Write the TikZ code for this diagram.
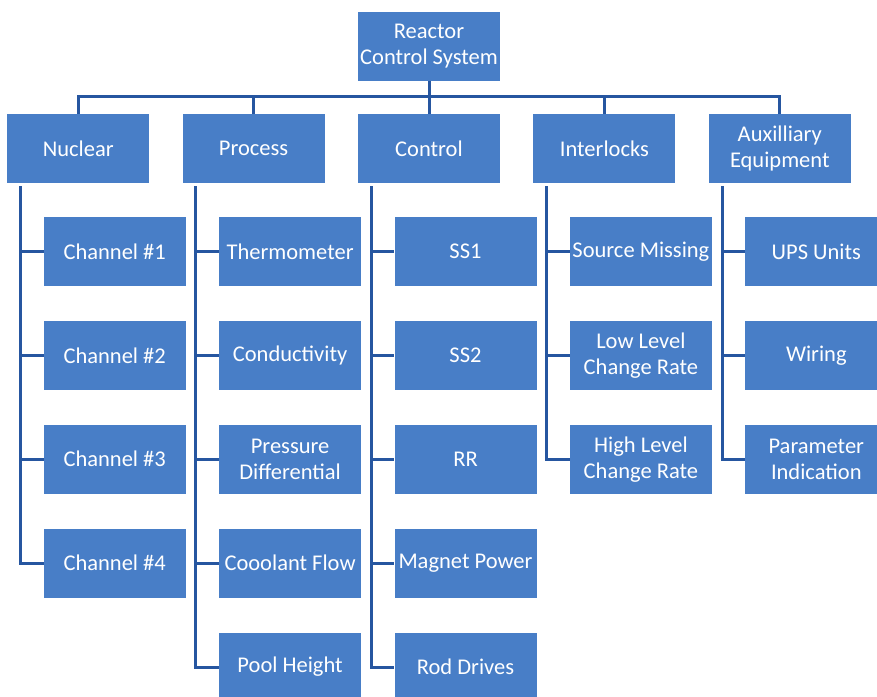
\documentclass[tikz,border=0pt]{standalone}
\usepackage{fontspec}
\setmainfont{Carlito}
\usetikzlibrary{positioning}
\definecolor{boxblue}{RGB}{72,126,199}
\definecolor{lineblue}{RGB}{38,86,160}
\tikzset {
  % organisation box
  unit/.style = {
    rectangle,
    fill = boxblue,
    text = white,
    minimum width = 142pt,
    minimum height = 69pt,
    inner sep = 0,
    align = center,
    font = \fontsize{22.5}{26}\selectfont
  },
  % box below a group
  sub/.style = {
    unit
  },
  % tree connector
  link/.style = {
    draw = lineblue,
    line width = 3pt
  },
  node distance = 33pt
}

\begin{document}
\begin{tikzpicture}[x=1pt,y=1pt]
    \useasboundingbox (0,0) rectangle (877,-696);
    \clip (0,0) rectangle (877,-696);

    \node[unit] (rcs) at (429,-46) {Reactor\\Control System};
    \node[unit] (control) at (429,-148.5) {Control};
    \node[unit] (process) [left=of control] {Process};
    \node[unit] (nuclear) [left=of process] {Nuclear};
    \node[unit] (interlocks) [right=of control] {Interlocks};
    \node[unit] (aux) [right=of interlocks] {Auxilliary\\Equipment};

    % nuclear group
    \node[sub, below=33.5pt of nuclear, xshift=36.5pt] (chan1) {Channel \#1};
    \node[sub, below=34.5pt of chan1] (chan2) {Channel \#2};
    \node[sub, below=34.5pt of chan2] (chan3) {Channel \#3};
    \node[sub, below=34.5pt of chan3] (chan4) {Channel \#4};

    % process group
    \node[sub, below=33.5pt of process, xshift=36.5pt] (thermo) {Thermometer};
    \node[sub, below=34.5pt of thermo] (conduct) {Conductivity};
    \node[sub, below=34.5pt of conduct] (pressure) {Pressure\\Differential};
    \node[sub, below=34.5pt of pressure] (coolant) {Cooolant Flow};
    \node[sub, below=34.5pt of coolant] (pool) {Pool Height};

    % control group
    \node[sub, below=33.5pt of control, xshift=36.5pt] (ss1) {SS1};
    \node[sub, below=34.5pt of ss1] (ss2) {SS2};
    \node[sub, below=34.5pt of ss2] (rr) {RR};
    \node[sub, below=34.5pt of rr] (magnet) {Magnet Power};
    \node[sub, below=34.5pt of magnet] (rods) {Rod Drives};

    % interlocks group
    \node[sub, below=33.5pt of interlocks, xshift=36.5pt] (source) {Source Missing};
    \node[sub, below=34.5pt of source] (lowrate) {Low Level\\Change Rate};
    \node[sub, below=34.5pt of lowrate] (highrate) {High Level\\Change Rate};

    % auxilliary group
    \node[sub, below=33.5pt of aux, xshift=36.5pt] (ups) {UPS Units};
    \node[sub, below=34.5pt of ups] (wiring) {Wiring};
    \node[sub, below=34.5pt of wiring] (param) {Parameter\\Indication};

    % top level
    \draw[link] (nuclear.north) -- ++(0,17) -| (aux.north);
    \draw[link] (rcs.south) -- (control.north);
    \draw[link] (process.north) -- ++(0,17);
    \draw[link] (interlocks.north) -- ++(0,17);

    % trunks
    \coordinate (nuclear-trunk) at ([xshift=13.5pt,yshift=-3pt]nuclear.south west);
    \coordinate (process-trunk) at ([xshift=13.5pt,yshift=-3pt]process.south west);
    \coordinate (control-trunk) at ([xshift=13.5pt,yshift=-3pt]control.south west);
    \coordinate (interlocks-trunk) at ([xshift=13.5pt,yshift=-3pt]interlocks.south west);
    \coordinate (aux-trunk) at ([xshift=13.5pt,yshift=-3pt]aux.south west);

    \draw[link] (nuclear-trunk) |- (chan4.west);
    \draw[link] (nuclear-trunk |- chan1) -- (chan1.west);
    \draw[link] (nuclear-trunk |- chan2) -- (chan2.west);
    \draw[link] (nuclear-trunk |- chan3) -- (chan3.west);

    \draw[link] (process-trunk) |- (pool.west);
    \draw[link] (process-trunk |- thermo) -- (thermo.west);
    \draw[link] (process-trunk |- conduct) -- (conduct.west);
    \draw[link] (process-trunk |- pressure) -- (pressure.west);
    \draw[link] (process-trunk |- coolant) -- (coolant.west);

    \draw[link] (control-trunk) |- (rods.west);
    \draw[link] (control-trunk |- ss1) -- (ss1.west);
    \draw[link] (control-trunk |- ss2) -- (ss2.west);
    \draw[link] (control-trunk |- rr) -- (rr.west);
    \draw[link] (control-trunk |- magnet) -- (magnet.west);

    \draw[link] (interlocks-trunk) |- (highrate.west);
    \draw[link] (interlocks-trunk |- source) -- (source.west);
    \draw[link] (interlocks-trunk |- lowrate) -- (lowrate.west);

    \draw[link] (aux-trunk) |- (param.west);
    \draw[link] (aux-trunk |- ups) -- (ups.west);
    \draw[link] (aux-trunk |- wiring) -- (wiring.west);
\end{tikzpicture}
\end{document}
